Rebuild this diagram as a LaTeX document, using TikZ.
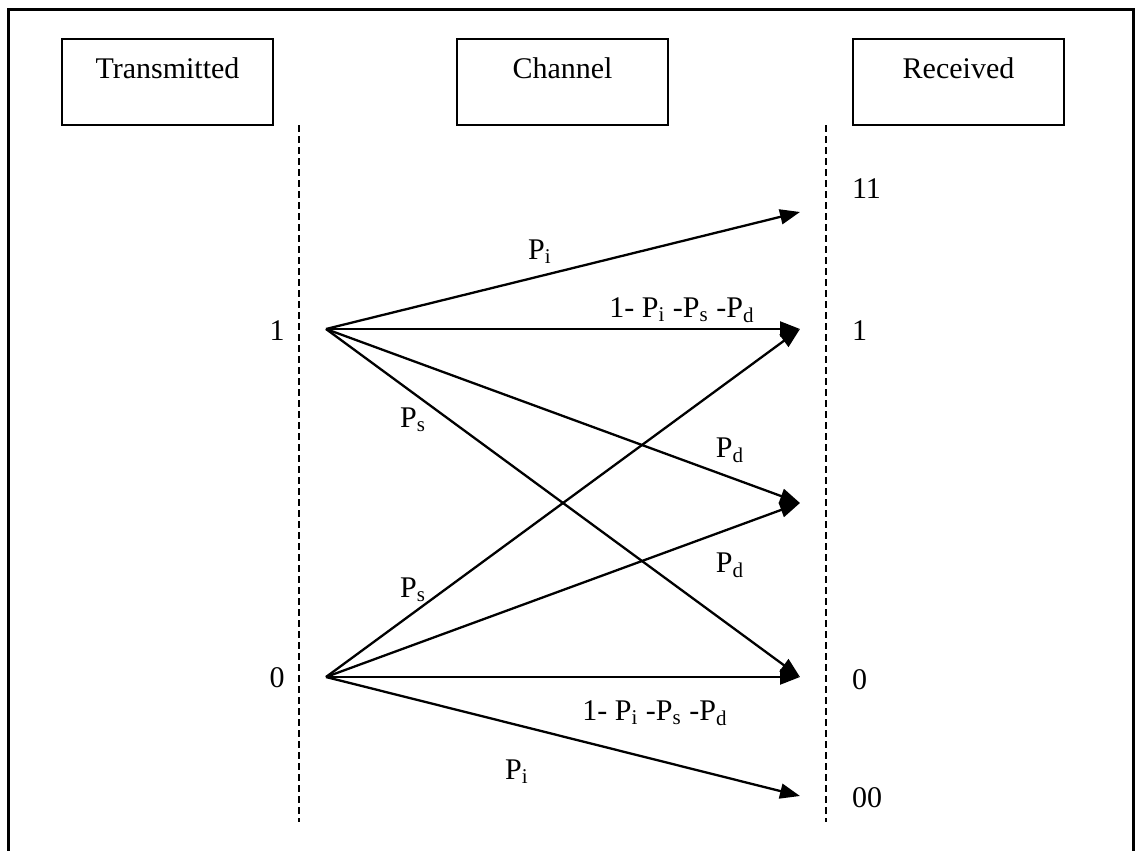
\documentclass[tikz,border=0pt]{standalone}
\usepackage{fontspec}
\setmainfont{Liberation Serif}
\usetikzlibrary{arrows.meta,positioning}

\begin{document}
\begin{tikzpicture}[x=0.5pt,y=-0.5pt,
    font=\fontsize{15}{18}\selectfont,
    hdrbox/.style={draw,line width=1.25pt,inner sep=0pt,minimum width=105.5pt,text height=19.5pt,text depth=23.5pt},
    sepline/.style={line width=1.1pt,dash pattern=on 3.5pt off 2pt},
    trans/.style={line width=1.15pt,-{Triangle[length=10pt,width=7.5pt]}},
    ]
\useasboundingbox (0,0) rectangle (1137,851);
\draw[line width=1.5pt] (8,851) -- (8,9) -- (1133,9) -- (1133,851);

% header boxes
\node[hdrbox] (bTrans) at (167.5,82) {Transmitted};
\node[hdrbox] (bChan) at (562.5,82) {Channel};
\node[hdrbox] (bRecv) at (958.5,82) {Received};

% dashed separators
\coordinate (cTxTop) at (299,125);
\coordinate (cTxBot) at (299,822);
\coordinate (cRxTop) at (826,125);
\coordinate (cRxBot) at (826,822);
\draw[sepline] (cTxTop) -- (cTxBot);
\draw[sepline] (cRxTop) -- (cRxBot);

% transmitted symbols
\coordinate (cOnePt) at (326,329);
\coordinate (cZeroPt) at (326,677);
\node (nOne) at (277,331) {1};
\node (nZero) at (277,678) {0};

% received symbols
\coordinate (cElevenPt) at (800,212);
\coordinate (cRxOnePt) at (800,329);
\coordinate (cDelPt) at (800,503);
\coordinate (cRxZeroPt) at (800,677);
\coordinate (cDZeroPt) at (800,796);
\node[anchor=west] (nEleven) at (845,189) {11};
\node[anchor=west] (nRxOne) at (845,331) {1};
\node[anchor=west] (nRxZero) at (845,680) {0};
\node[anchor=west] (nDZero) at (845,798) {00};

% transitions
\draw[trans] (cOnePt) -- (cElevenPt);
\draw[trans] (cOnePt) -- (cRxOnePt);
\draw[trans] (cOnePt) -- (cDelPt);
\draw[trans] (cOnePt) -- (cRxZeroPt);
\draw[trans] (cZeroPt) -- (cRxOnePt);
\draw[trans] (cZeroPt) -- (cDelPt);
\draw[trans] (cZeroPt) -- (cRxZeroPt);
\draw[trans] (cZeroPt) -- (cDZeroPt);

% probabilities
\node (lInsOne) at (540,252) {P\textsubscript{i}};
\node (lKeepOne) at (682,310) {1- P\textsubscript{i} -P\textsubscript{s} -P\textsubscript{d}};
\node (lSubOne) at (413,420) {P\textsubscript{s}};
\node (lDelOne) at (730,450) {P\textsubscript{d}};
\node (lDelZero) at (730,565) {P\textsubscript{d}};
\node (lSubZero) at (413,590) {P\textsubscript{s}};
\node (lKeepZero) at (655,713) {1- P\textsubscript{i} -P\textsubscript{s} -P\textsubscript{d}};
\node (lInsZero) at (517,772) {P\textsubscript{i}};
\end{tikzpicture}
\end{document}
